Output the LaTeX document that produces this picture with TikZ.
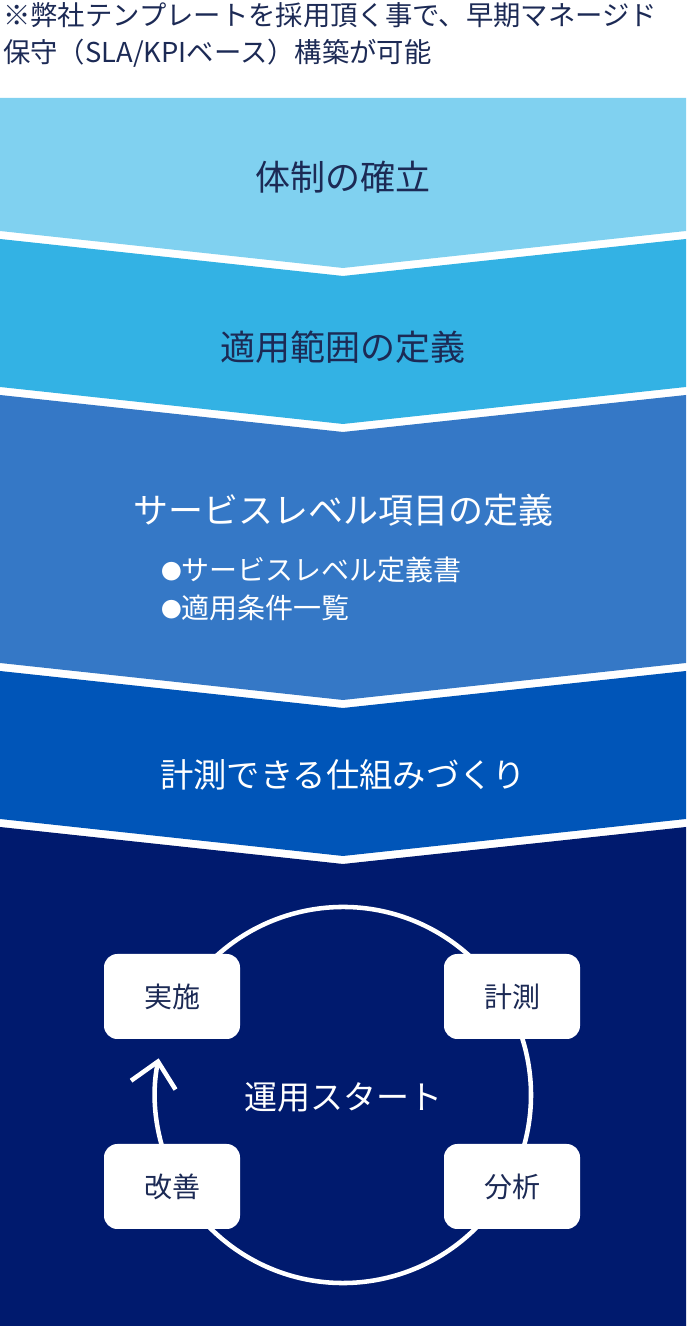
\documentclass[tikz,border=0pt]{standalone}
\usepackage{fontspec}
\setmainfont{Noto Sans CJK JP}
\usetikzlibrary{arrows.meta,calc}
\definecolor{bandA}{HTML}{80D1F0}
\definecolor{bandB}{HTML}{33B2E4}
\definecolor{bandC}{HTML}{3578C6}
\definecolor{bandD}{HTML}{0055B8}
\definecolor{bandE}{HTML}{001A6E}
\definecolor{ink}{HTML}{1C2A55}
\pgfdeclarelayer{back}
\pgfdeclarelayer{loop}
\pgfsetlayers{back,loop,main}
\newcommand{\smallbul}{{\fontsize{15.5pt}{16pt}\selectfont\raisebox{0.5pt}{●}}}
\tikzset{
  heading/.style={inner sep=0pt, font=\fontsize{26.25pt}{30pt}\selectfont},
  darktext/.style={text=ink},
  lighttext/.style={text=white},
  note/.style={inner sep=0pt, anchor=west, text=ink, font=\fontsize{20.5pt}{24pt}\selectfont},
  bullet/.style={inner sep=0pt, anchor=west, text=white, font=\fontsize{21pt}{24pt}\selectfont},
  stagebox/.style={draw=none, fill=white, rounded corners=10pt, minimum width=102pt, minimum height=63.75pt, inner sep=0pt, text=ink, font=\fontsize{21pt}{24pt}\selectfont},
  cyc/.style={draw=white, line width=3.4pt},
  center label/.style={inner sep=0pt, text=white, font=\fontsize{24.75pt}{28pt}\selectfont}
}
\begin{document}
\begin{tikzpicture}[x=0.75pt,y=0.75pt]
\useasboundingbox (0,0) rectangle (686,1326);
\begin{pgfonlayer}{back}
\fill[white] (0,0) rectangle (686,1326);
\fill[bandA] (0,1228) -- (686,1228) -- (686,1095) -- (343,1058) -- (0,1095) -- cycle;
\fill[bandB] (0,1087) -- (343,1050) -- (686,1087) -- (686,939) -- (343,902) -- (0,939) -- cycle;
\fill[bandC] (0,931) -- (343,894) -- (686,931) -- (686,663) -- (343,626) -- (0,663) -- cycle;
\fill[bandD] (0,655) -- (343,618) -- (686,655) -- (686,507) -- (343,470) -- (0,507) -- cycle;
\fill[bandE] (0,499) -- (343,462) -- (686,499) -- (686,0) -- (0,0) -- cycle;
\end{pgfonlayer}

\node[note] (note1) at (3,1311) {※弊社テンプレートを採用頂く事で、早期マネージド};
\node[note] (note2) at (3,1273) {保守（SLA/KPIベース）構築が可能};

\node[heading,darktext] (t1) at (343,1149) {体制の確立};
\node[heading,darktext] (t2) at (343,979) {適用範囲の定義};
\node[heading,lighttext] (t3) at (343,816) {サービスレベル項目の定義};
\node[bullet] (b1) at (161,756.5) {\smallbul サービスレベル定義書};
\node[bullet] (b2) at (161,718) {\smallbul 適用条件一覧};
\node[heading,lighttext,font=\fontsize{25pt}{28pt}\selectfont] (t4) at (343,551) {計測できる仕組みづくり};

\coordinate (c) at (343,231);
\node[stagebox] (jisshi) at (172,329.5) {実施};
\node[stagebox] (keisoku) at (512,329.5) {計測};
\node[stagebox] (bunseki) at (512,139.5) {分析};
\node[stagebox] (kaizen) at (172,139.5) {改善};
\node[center label] (start) at (343,229) {運用スタート};

\begin{pgfonlayer}{loop}
\draw[cyc] ($(c)+(150:141pt)$) arc[start angle=150, end angle=30, radius=141pt];
\draw[cyc] ($(c)+(30:141pt)$) arc[start angle=30, end angle=-30, radius=141pt];
\draw[cyc] ($(c)+(-30:141pt)$) arc[start angle=-30, end angle=-150, radius=141pt];
\draw[cyc, -{Straight Barb[length=18pt, width=34pt]}] ($(c)+(-150:141pt)$) arc[start angle=-150, end angle=-191.25, radius=141pt];
\end{pgfonlayer}
\end{tikzpicture}
\end{document}
